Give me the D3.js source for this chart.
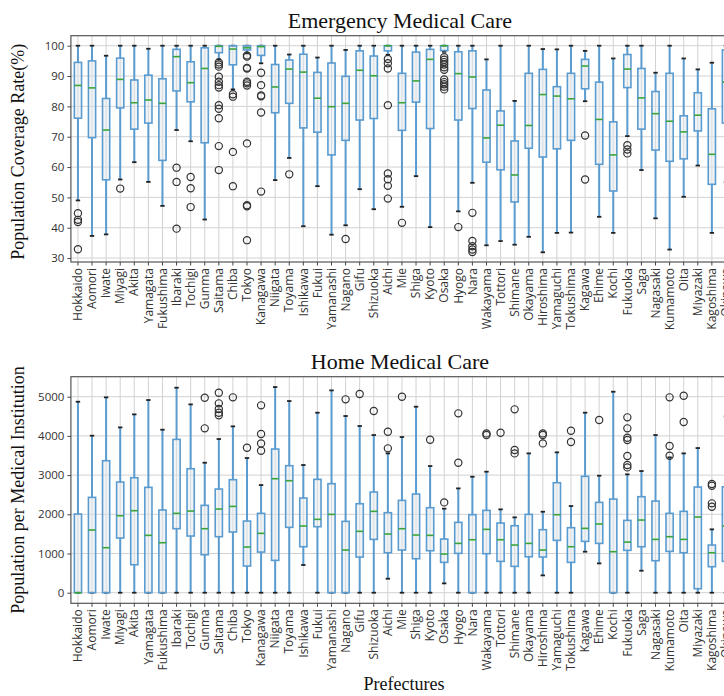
<!DOCTYPE html>
<html>
<head>
<meta charset="utf-8">
<script src="https://cdn.jsdelivr.net/npm/d3@7"></script>
<style>
  html, body { margin: 0; padding: 0; background: #fff; }
  svg { display: block; }
</style>
</head>
<body>
<svg id="chart" width="724" height="696"></svg>
<script>
// Prefectures along the x axis (both panels share the same order)
const prefectures = ["Hokkaido","Aomori","Iwate","Miyagi","Akita","Yamagata","Fukushima","Ibaraki","Tochigi","Gunma",
  "Saitama","Chiba","Tokyo","Kanagawa","Niigata","Toyama","Ishikawa","Fukui","Yamanashi","Nagano",
  "Gifu","Shizuoka","Aichi","Mie","Shiga","Kyoto","Osaka","Hyogo","Nara","Wakayama",
  "Tottori","Shimane","Okayama","Hiroshima","Yamaguchi","Tokushima","Kagawa","Ehime","Kochi","Fukuoka",
  "Saga","Nagasaki","Kumamoto","Oita","Miyazaki","Kagoshima","Okinawa"];

// Emergency medical care: population coverage rate (%) box statistics
const emLow  = [49.0,37.3,37.8,55.9,61.6,55.1,47.2,72.2,68.5,42.7, 95.5,85.6,97.5,94.2,55.7,63.0,40.5,53.7,37.7,40.8,
  52.7,46.1,97.0,46.9,57.0,40.2,98.0,45.4,54.8,34.2, 35.6,34.4,37.0,31.9,38.3,38.4,81.7,43.6,38.3,70.2, 59.0,43.1,32.8,50.2,60.5,38.3,55.0];
const emQ1   = [76.1,69.7,55.8,79.5,72.5,74.5,62.2,85.1,81.5,68.0, 97.7,93.7,98.6,96.8,77.9,81.0,72.9,71.5,64.0,68.8,
  75.5,76.0,98.3,72.1,81.4,72.7,98.4,75.5,79.3,61.6, 59.1,48.5,66.2,63.3,66.0,68.8,85.8,60.9,52.1,86.2, 72.5,65.6,61.9,62.7,71.9,54.3,74.5];
const emMed  = [86.9,86.1,72.2,88.9,81.2,82.1,81.0,96.4,87.8,92.5, 99.8,98.9,99.3,99.7,86.4,92.3,91.3,82.7,79.9,81.0,
  91.9,90.1,100,81.2,88.4,95.5,100,90.8,89.7,69.6, 73.8,57.4,73.7,83.9,83.4,82.5,93.3,75.7,64.0,92.3, 82.8,77.6,75.1,71.6,77.1,64.2,88.0];
const emQ3   = [94.5,95.0,82.6,95.9,88.7,90.3,89.1,98.8,94.7,99.3, 100,100,100,100,93.8,95.3,97.2,91.2,94.3,89.9,
  98.3,96.6,100,90.9,97.9,98.8,100,98.0,98.3,85.4, 78.5,68.6,90.9,92.2,86.5,90.9,95.5,88.0,74.9,97.1, 92.5,84.9,90.9,76.9,84.5,79.2,98.6];
const emHigh = [100,100,96.7,100,100,99.0,100,100,100,100, 100,100,100,100,100,97.1,100,96.1,100,98.6,
  100,100,100,100,100,100,100,100,100,95.5, 100,81.8,100,98.9,98.8,100,98.3,100,95.8,100, 100,91.1,100,95.8,92.2,94.4,100];
const emOut  = [[44.8,42.6,41.9,32.9],[],[],[52.9],[],[],[],[59.8,55.1,39.7],[56.7,53.0,46.8],[],
  [94.5,93.8,93.1,89.8,88.1,87.0,86.2,80.4,79.2,76.1,66.9,59.0],[84.0,83.2,65.0,53.7],
  [96.8,96.4,92.7,92.5,88.1,87.6,86.9,67.8,47.4,47.1,35.9],[91.1,87.0,83.6,83.3,78.0,51.9],[],[57.6],[],[],[],[36.3],
  [],[],[95.6,94.2,92.5,80.4,57.9,56.0,53.8,49.6],[41.6],[],[],
  [96.2,95.4,94.6,93.8,92.9,92.1,88.9,88.0,87.3,86.5,85.6],[40.2],[44.9,35.6,33.9,32.8,32.0],[],
  [],[],[],[],[],[],[70.4,55.9],[],[],[67.2,65.8,64.5], [],[],[],[],[],[],[]];

// Home medical care: population per medical institution box statistics
const homeLow  = [0,0,0,0,0,0,0,0,0,0, 0,0,0,0,0,0,706,0,0,0, 0,0,357,0,0,0,238,0,0,0,
  0,0,0,442,0,0,1046,748,0,0, 561,0,0,0,0,0,0];
const homeQ1   = [0,0,0,1395,714,0,0,1633,1446,969, 1429,1548,680,1037,825,1667,1173,1684,0,0,
  910,1360,1020,1088,867,1071,774,1003,0,995, 799,672,918,910,1335,774,1309,1258,0,1080, 1173,816,1054,1020,102,663,800];
const homeMed  = [0,1599,1148,1964,2092,1463,1275,2024,2083,1633, 2134,2202,1165,1514,2908,2857,1701,1871,1998,1088,
  1565,2075,1497,1633,1471,1463,986,1258,1352,1616, 1352,1216,1258,1088,1990,1173,1641,1752,1046,1292, 1854,1360,1429,1360,1930,1020,1700];
const homeQ3   = [2007,2432,3367,2823,2933,2687,2109,3911,3163,2228, 2644,2883,1828,2024,3665,3240,2415,2891,2781,1820,
  2270,2568,2041,2355,2517,2168,1369,1794,1990,2100, 1777,1709,1998,1607,2806,1658,2968,2304,2389,1845, 2449,2338,2024,2075,2695,1216,2700];
const homeHigh = [4872,4005,4983,4217,4549,4915,4158,5229,4804,3316, 3920,4243,3435,2746,5246,4889,3257,4592,5161,4507,
  4252,4022,3554,3971,4745,3231,2143,2661,2959,3087, 2126,1922,3554,2066,3580,2211,4592,2985,5127,3019, 3104,4022,3452,3554,3690,1616,4500];
const homeOut  = [[],[],[],[],[],[],[],[],[],[4974,4192],
  [5102,4830,4685,4592,4524],[4983],[3699],[4779,4047,3809,3622],[],[],[],[],[],[4932],
  [5068],[4634],[4107,3682],[5000],[],[3903],[2304],[4575,3316],[],[4064,4022],
  [4081],[4677,3639,3554],[],[4064,4022,3809],[],[4132,3843],[],[4405],[],[4473,4192,3954,3894,3486,3257,3197],
  [],[],[4983,3741,3495],[5025,4354],[],[2772,2730,2279,2194],[]];

const emTicks = [30,40,50,60,70,80,90,100];
const homeTicks = [0,1000,2000,3000,4000,5000];

const svg = d3.select("#chart");
const left = 70.9, right = 733;
const blue = "#5a9bd0", green = "#3aa53a";

const x = d3.scaleBand().domain(prefectures).range([left, right]).paddingInner(0).paddingOuter(0);
const cx = p => x(p) + x.bandwidth() / 2;

function panel(cfg) {
  const y = d3.scaleLinear().domain(cfg.domain).range([cfg.bottom, cfg.top]);
  const g = svg.append("g");

  // grid
  g.append("g").selectAll("line").data(cfg.ticks).join("line")
    .attr("x1", left).attr("x2", right).attr("y1", d => y(d)).attr("y2", d => y(d))
    .attr("stroke", "#d2d2d2").attr("stroke-width", 1);
  g.append("g").selectAll("line").data(prefectures).join("line")
    .attr("x1", d => cx(d)).attr("x2", d => cx(d)).attr("y1", cfg.top).attr("y2", cfg.bottom)
    .attr("stroke", "#d2d2d2").attr("stroke-width", 1);

  const rows = prefectures.map((p, i) => ({
    p, low: cfg.low[i], q1: cfg.q1[i], med: cfg.med[i], q3: cfg.q3[i], high: cfg.high[i], out: cfg.out[i]
  }));
  const hw = 3.6, capw = 2.2;
  const box = g.append("g").selectAll("g").data(rows).join("g");

  // whiskers
  box.append("line").attr("x1", d => cx(d.p)).attr("x2", d => cx(d.p))
    .attr("y1", d => y(d.q3)).attr("y2", d => y(d.high))
    .attr("stroke", blue).attr("stroke-width", 2);
  box.append("line").attr("x1", d => cx(d.p)).attr("x2", d => cx(d.p))
    .attr("y1", d => y(d.q1)).attr("y2", d => y(d.low))
    .attr("stroke", blue).attr("stroke-width", 2);
  // caps
  box.append("line").attr("x1", d => cx(d.p) - capw).attr("x2", d => cx(d.p) + capw)
    .attr("y1", d => y(d.high)).attr("y2", d => y(d.high))
    .attr("stroke", "#222").attr("stroke-width", 1.8);
  box.append("line").attr("x1", d => cx(d.p) - capw).attr("x2", d => cx(d.p) + capw)
    .attr("y1", d => y(d.low)).attr("y2", d => y(d.low))
    .attr("stroke", "#222").attr("stroke-width", 1.8);
  // boxes
  box.append("rect").attr("x", d => cx(d.p) - hw).attr("width", hw * 2)
    .attr("y", d => y(d.q3)).attr("height", d => Math.max(0, y(d.q1) - y(d.q3)))
    .attr("fill", "rgba(225,230,236,0.45)").attr("stroke", blue).attr("stroke-width", 1.6);
  // medians
  box.append("line").attr("x1", d => cx(d.p) - hw).attr("x2", d => cx(d.p) + hw)
    .attr("y1", d => y(d.med)).attr("y2", d => y(d.med))
    .attr("stroke", green).attr("stroke-width", 1.6);
  // fliers
  box.selectAll("circle").data(d => d.out.map(v => ({ p: d.p, v }))).join("circle")
    .attr("cx", d => cx(d.p)).attr("cy", d => y(d.v)).attr("r", 3.6)
    .attr("fill", "none").attr("stroke", "#333").attr("stroke-width", 1.2);

  // frame
  g.append("rect").attr("x", left).attr("y", cfg.top).attr("width", right - left).attr("height", cfg.bottom - cfg.top)
    .attr("fill", "none").attr("stroke", "#555").attr("stroke-width", 1.2);

  // axes
  const ya = g.append("g").attr("transform", `translate(${left},0)`)
    .call(d3.axisLeft(y).tickValues(cfg.ticks).tickSize(3.5).tickPadding(3).tickFormat(d3.format("d")));
  ya.select(".domain").remove();
  ya.selectAll("text").attr("font-family", "'Open Sans', Lato, sans-serif").attr("font-size", 11.5).attr("fill", "#333");
  ya.selectAll("line").attr("stroke", "#444");

  const xa = g.append("g").attr("transform", `translate(0,${cfg.bottom})`)
    .call(d3.axisBottom(x).tickSize(3.5).tickPadding(3));
  xa.select(".domain").remove();
  xa.selectAll("line").attr("stroke", "#444");
  xa.selectAll("text")
    .attr("font-family", "'Open Sans', Lato, sans-serif").attr("font-size", 12).attr("fill", "#333")
    .attr("transform", "rotate(-90)").attr("text-anchor", "end")
    .attr("x", -6).attr("y", 0).attr("dy", "0.35em");

  // title
  svg.append("text").attr("x", (left + right) / 2 - 2).attr("y", cfg.top - 8)
    .attr("text-anchor", "middle").attr("font-family", "'Liberation Serif', serif")
    .attr("font-size", 22).attr("fill", "#111").text(cfg.title);

  // y label
  svg.append("text").attr("transform", `translate(24,${(cfg.top + cfg.bottom) / 2 + cfg.labelShift}) rotate(-90)`)
    .attr("text-anchor", "middle").attr("font-family", "'Liberation Serif', serif")
    .attr("font-size", 18).attr("fill", "#111").text(cfg.ylabel);
}

panel({
  title: "Emergency Medical Care", ylabel: "Population Coverage Rate(%)",
  domain: [28.7, 103.3], top: 35.7, bottom: 262, ticks: emTicks, labelShift: 3,
  low: emLow, q1: emQ1, med: emMed, q3: emQ3, high: emHigh, out: emOut
});
panel({
  title: "Home Medical Care", ylabel: "Population per Medical Institution",
  domain: [-270, 5510], top: 376.7, bottom: 603.3, ticks: homeTicks, labelShift: 0,
  low: homeLow, q1: homeQ1, med: homeMed, q3: homeQ3, high: homeHigh, out: homeOut
});

svg.append("text").attr("x", 404).attr("y", 690).attr("text-anchor", "middle")
  .attr("font-family", "'Liberation Serif', serif").attr("font-size", 18).attr("fill", "#111")
  .text("Prefectures");
</script>
</body>
</html>
